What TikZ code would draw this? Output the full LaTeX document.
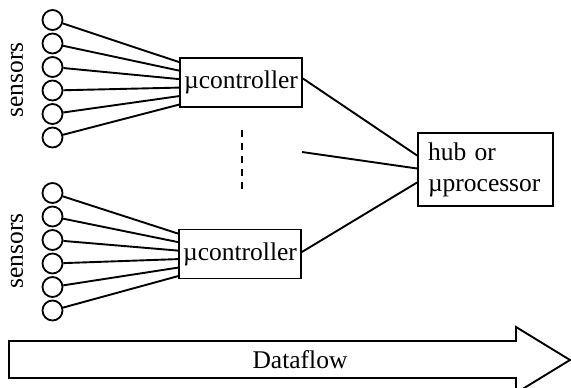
\documentclass[tikz,border=0pt]{standalone}
\usepackage{fontspec}
\setmainfont{Liberation Serif}
\usetikzlibrary{calc}
\begin{document}
\begin{tikzpicture}[x=1pt,y=-1pt,
  every node/.style={font=\fontsize{25.5}{31}\selectfont},
  sensor/.style={draw,circle,minimum size=20pt,inner sep=0pt,line width=1.8pt},
  ctrl/.style={draw,rectangle,line width=1.8pt,minimum width=122pt,minimum height=49pt,inner sep=0pt},
  wire/.style={line width=1.9pt}]
\useasboundingbox (0,0) rectangle (571,388);
% controllers
\node[ctrl] (c1) at (241,82.5) {µcontroller};
\node[ctrl] (c2) at (240,254) {µcontroller};
\node[draw,rectangle,line width=1.8pt,minimum width=135pt,minimum height=73pt,inner sep=0pt,align=left,text width=115pt] (hub) at (485.5,169.5) {hub or\\µprocessor};
% sensors
\foreach \i/\y in {1/20,2/43.5,3/67,4/90.5,5/114,6/137.5}{
  \node[sensor] (a\i) at (52.5,\y) {};
}
\foreach \i/\y in {1/193,2/216.5,3/240,4/263.5,5/287,6/310.5}{
  \node[sensor] (b\i) at (52.5,\y) {};
}
\foreach \i/\d in {1/5,2/13.5,3/22,4/30.5,5/39,6/47.5}{
  \draw[wire] (a\i) -- ($(c1.north west)+(0,\d)$);
  \draw[wire] (b\i) -- ($(c2.north west)+(0,\d)$);
}
\node[rotate=90] (l1) at (17,80) {sensors};
\node[rotate=90] (l2) at (17,251) {sensors};
% connections to hub
\draw[wire] ($(c1.east)+(0,-4)$) -- ($(hub.west)+(0,-14)$);
\draw[wire] ($(c2.east)+(0,-2)$) -- ($(hub.west)+(0,13)$);
\coordinate (m) at (302,152);
\draw[wire] (m) -- ($(hub.west)+(0,-1)$);
% dashed
\coordinate (d1) at (242,130);
\coordinate (d2) at (242,193);
\draw[line width=1.8pt,dash pattern=on 7pt off 6pt] (d1) -- (d2);
% dataflow arrow
\draw[line width=1.9pt,line join=miter] (9,341) -- (516,341) -- (516,327) -- (570,360) -- (516,393) -- (516,378) -- (9,378) -- cycle;
\node (df) at (300,360) {Dataflow};
\end{tikzpicture}
\end{document}
